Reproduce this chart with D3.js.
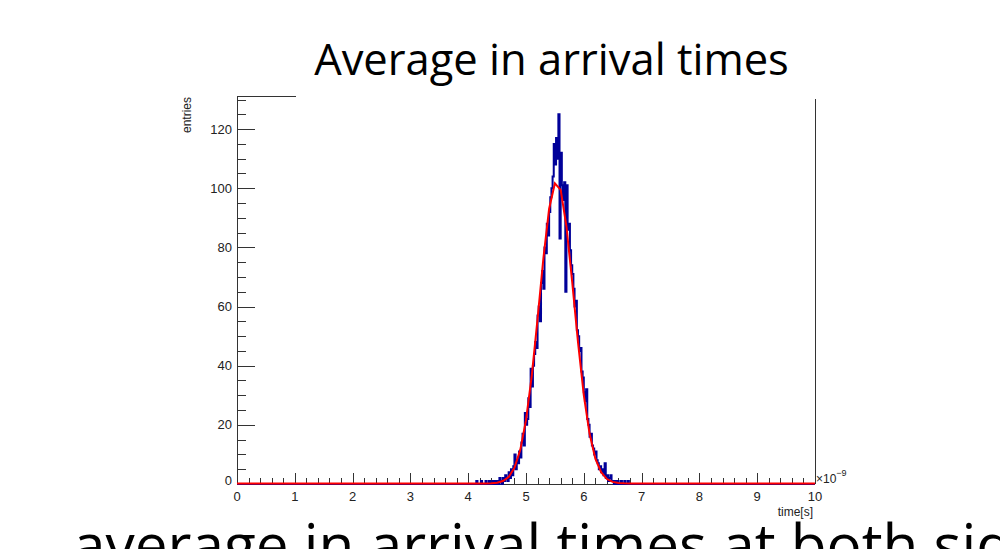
<!DOCTYPE html>
<html lang="en">
  <head>
    <meta charset="utf-8" />
    <title>Average in arrival times</title>
    <script type="text/javascript" src="https://cdn.jsdelivr.net/npm/d3@7"></script>
    <style type="text/css">
      body { margin: 0; background: #fff; }
    </style>
  </head>
  <body>
    <script type="text/javascript">
      // histogram: bins of 0.02 (x1e-9 s) starting at 4.10
      var histStart = 4.1;
      var binWidth = 0.02;
      var counts = [
        0, 0, 1, 0, 0, 0, 1, 0, 0, 0,
        1, 0, 0, 1, 0, 0, 1, 0, 1, 0,
        1, 0, 2, 1, 0, 2, 1, 3, 2, 1,
        4, 2, 5, 3, 6, 10, 5, 8, 7, 11,
        9, 14, 17, 13, 24, 20, 22, 29, 26, 39,
        33, 40, 44, 48, 46, 57, 60, 55, 68, 72,
        66, 80, 78, 88, 84, 92, 97, 100, 104, 115,
        108, 117, 110, 125, 83, 112, 101, 96, 102, 65,
        101, 86, 88, 79, 74, 71, 66, 60, 62, 52,
        50, 45, 46, 38, 36, 31, 28, 32, 22, 20,
        16, 17, 13, 12, 10, 11, 8, 7, 5, 6,
        4, 5, 3, 7, 2, 3, 1, 2, 3, 1,
        1, 0, 1, 0, 1, 0, 0, 1, 0, 0,
        1, 0, 0, 1, 0
      ];

      // gaussian fit drawn as polyline
      var fitTimes = [0, 4.3, 4.4, 4.5, 4.6, 4.7, 4.8, 4.9, 5.0, 5.1, 5.2, 5.3, 5.4, 5.5,
        5.6, 5.7, 5.8, 5.9, 6.0, 6.1, 6.2, 6.3, 6.4, 6.5, 6.6, 6.7, 6.8, 10];
      var fitValues = [0, 0.02, 0.08, 0.28, 0.84, 2.2, 5.3, 11.3, 21.4, 36.5, 55.7, 76.0, 92.9, 101.5,
        99.3, 86.9, 68.0, 47.7, 29.9, 16.8, 8.4, 3.8, 1.5, 0.55, 0.18, 0.05, 0.01, 0];

      var xTicks = [0, 1, 2, 3, 4, 5, 6, 7, 8, 9, 10];
      var yTicks = [0, 20, 40, 60, 80, 100, 120];

      var w = 1000;
      var h = 549;

      var xScale = d3.scaleLinear().domain([0, 10]).range([237, 815]);
      var yScale = d3.scaleLinear().domain([0, 131.2]).range([484, 96]);

      var svg = d3
        .select("body")
        .append("svg")
        .attr("width", w)
        .attr("height", h);

      var axisColor = "#333";
      var tickFont = "Liberation Sans, Arial, sans-serif";

      // frame
      svg.append("line")
        .attr("x1", 237.5).attr("x2", 237.5)
        .attr("y1", yScale(131.2)).attr("y2", 484)
        .attr("stroke", axisColor);
      svg.append("line")
        .attr("x1", 237).attr("x2", 815)
        .attr("y1", 96.5).attr("y2", 96.5)
        .attr("stroke", axisColor);
      svg.append("line")
        .attr("x1", 815.5).attr("x2", 815.5)
        .attr("y1", 96).attr("y2", 484)
        .attr("stroke", axisColor);

      // y minor + major ticks
      var yMinor = d3.range(0, 131, 5);
      svg.selectAll("line.ymin")
        .data(yMinor)
        .enter()
        .append("line")
        .attr("class", "ymin")
        .attr("x1", 237)
        .attr("x2", function (d) { return d % 20 === 0 ? 255 : 246; })
        .attr("y1", function (d) { return Math.round(yScale(d)) + 0.5; })
        .attr("y2", function (d) { return Math.round(yScale(d)) + 0.5; })
        .attr("stroke", axisColor);

      svg.selectAll("text.ylab")
        .data(yTicks)
        .enter()
        .append("text")
        .attr("class", "ylab")
        .text(function (d) { return d; })
        .attr("x", 232)
        .attr("y", function (d) { return d === 0 ? yScale(d) + 1 : yScale(d) + 4.5; })
        .attr("text-anchor", "end")
        .attr("font-family", tickFont)
        .attr("font-size", "13px")
        .attr("fill", "#222");

      // x minor + major ticks
      var xMinor = d3.range(0, 10.01, 0.2);
      svg.selectAll("line.xmin")
        .data(xMinor)
        .enter()
        .append("line")
        .attr("class", "xmin")
        .attr("x1", function (d) { return Math.round(xScale(d)) + 0.5; })
        .attr("x2", function (d) { return Math.round(xScale(d)) + 0.5; })
        .attr("y1", 484)
        .attr("y2", function (d) { return Math.abs(d - Math.round(d)) < 0.01 ? 473 : 478; })
        .attr("stroke", axisColor);

      svg.selectAll("text.xlab")
        .data(xTicks)
        .enter()
        .append("text")
        .attr("class", "xlab")
        .text(function (d) { return d; })
        .attr("x", function (d) { return xScale(d); })
        .attr("y", 501)
        .attr("text-anchor", "middle")
        .attr("font-family", tickFont)
        .attr("font-size", "13px")
        .attr("fill", "#222");

      // x axis line
      svg.append("line")
        .attr("x1", 237).attr("x2", 815)
        .attr("y1", 484.5).attr("y2", 484.5)
        .attr("stroke", axisColor);

      // exponent label
      var expo = svg.append("text")
        .attr("x", 816)
        .attr("y", 483)
        .attr("font-family", tickFont)
        .attr("font-size", "12px")
        .attr("fill", "#222");
      expo.append("tspan").text("\u00d710");
      expo.append("tspan").text("\u22129").attr("dy", -7).attr("font-size", "9px");

      svg.append("text")
        .text("time[s]")
        .attr("x", 813)
        .attr("y", 516)
        .attr("text-anchor", "end")
        .attr("font-family", tickFont)
        .attr("font-size", "12px")
        .attr("fill", "#222");

      svg.append("text")
        .text("entries")
        .attr("transform", "translate(191,97) rotate(-90)")
        .attr("text-anchor", "end")
        .attr("font-family", tickFont)
        .attr("font-size", "12px")
        .attr("fill", "#222");

      // histogram as step line
      var histPoints = [{ t: 0, v: 0 }];
      counts.forEach(function (c, i) {
        histPoints.push({ t: histStart + i * binWidth, v: c });
      });
      histPoints.push({ t: histStart + counts.length * binWidth, v: 0 });
      histPoints.push({ t: 10, v: 0 });

      var stepLine = d3.line()
        .x(function (d) { return xScale(d.t); })
        .y(function (d) { return yScale(d.v); })
        .curve(d3.curveStepAfter);

      svg.append("path")
        .datum(histPoints)
        .attr("d", stepLine)
        .attr("fill", "none")
        .attr("stroke", "#000099")
        .attr("stroke-width", 2);

      // fit
      var fitLine = d3.line()
        .x(function (d, i) { return xScale(fitTimes[i]); })
        .y(function (d) { return yScale(d) - 0.5; });

      svg.append("path")
        .datum(fitValues)
        .attr("d", fitLine)
        .attr("fill", "none")
        .attr("stroke", "#ff0000")
        .attr("stroke-width", 2);

      // white title box covering the top of the frame
      svg.append("rect")
        .attr("x", 296).attr("y", 0)
        .attr("width", 704).attr("height", 99)
        .attr("fill", "#fff");

      var slideFont = "'Open Sans', 'Noto Sans', sans-serif";

      svg.append("text")
        .text("Average in arrival times")
        .attr("x", 551.5)
        .attr("y", 75)
        .attr("text-anchor", "middle")
        .attr("font-family", slideFont)
        .attr("font-size", "43.5px")
        .attr("fill", "#000");

      svg.append("text")
        .text("average in arrival times at both sides")
        .attr("x", 73)
        .attr("y", 566)
        .attr("font-family", slideFont)
        .attr("font-size", "58.5px")
        .attr("fill", "#000");
    </script>
  </body>
</html>
